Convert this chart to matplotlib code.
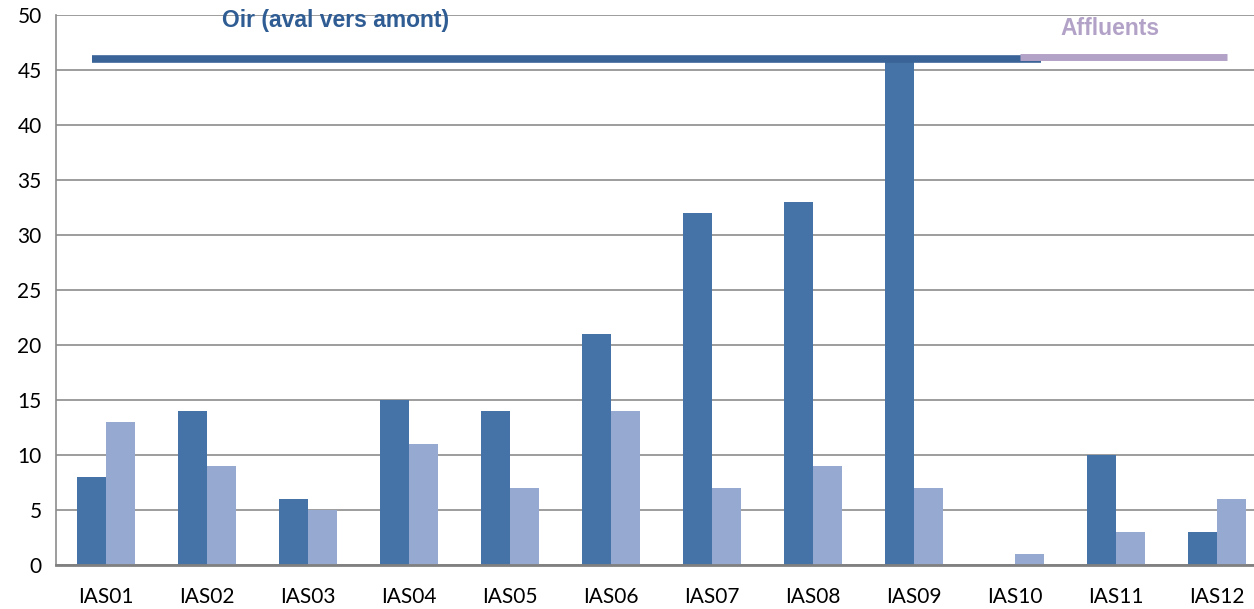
import numpy as np
import matplotlib.pyplot as plt

plt.rcParams['font.family'] = ['Lato', 'DejaVu Sans']

stations = ["IAS01", "IAS02", "IAS03", "IAS04", "IAS05", "IAS06",
            "IAS07", "IAS08", "IAS09", "IAS10", "IAS11", "IAS12"]
serie_fonce = [8, 14, 6, 15, 14, 21, 32, 33, 46, 0, 10, 3]
serie_claire = [13, 9, 5, 11, 7, 14, 7, 9, 7, 1, 3, 6]

c_fonce = "#4573A7"
c_claire = "#95A9D1"
c_titre = "#2E5C93"
c_affl = "#B3A2C7"

x = np.arange(len(stations))
w = 0.29

fig = plt.figure(figsize=(12.54, 6.09), dpi=100)
# l'axe deborde un peu a droite, comme dans l'original
ax = fig.add_axes([55.5/1254, 44/609, 1212/1254, 550/609])

ax.bar(x - w/2, serie_fonce, w, color=c_fonce, zorder=3)
ax.bar(x + w/2, serie_claire, w, color=c_claire, zorder=3)

ax.set_xlim(-0.5, 11.5)
ax.set_ylim(0, 50)
ax.set_yticks(range(0, 51, 5))
ax.set_xticks(x)
ax.set_xticklabels(stations)
ax.tick_params(axis="both", length=0, labelsize=15, colors="black")
ax.tick_params(axis="x", pad=16)
ax.tick_params(axis="y", pad=10)
ax.yaxis.grid(True, color="#8c8c8c", linewidth=1.2, zorder=0)
for s in ["top", "right"]:
    ax.spines[s].set_visible(False)
ax.spines["left"].set_color("#8c8c8c")
ax.spines["left"].set_linewidth(1.2)
ax.spines["bottom"].set_color("#808080")
ax.spines["bottom"].set_linewidth(2)
ax.spines["bottom"].set_zorder(4)

# bandeaux Oir / Affluents
ax.plot([-0.14, 9.26], [46, 46], color="#3A6497", linewidth=5.5, solid_capstyle="butt", zorder=5)
ax.plot([9.05, 11.1], [46.2, 46.2], color=c_affl, linewidth=5, solid_capstyle="butt", zorder=6)
ax.text(2.27, 49.5, "Oir (aval vers amont)", color=c_titre, fontsize=16.5, fontweight="bold",
        ha="center", va="center", family=["Liberation Sans", "DejaVu Sans"], zorder=6)
ax.text(9.94, 48.8, "Affluents", color=c_affl, fontsize=16.5, fontweight="bold",
        ha="center", va="center", family=["Liberation Sans", "DejaVu Sans"], zorder=6)

fig.savefig("out.png", dpi=100)
